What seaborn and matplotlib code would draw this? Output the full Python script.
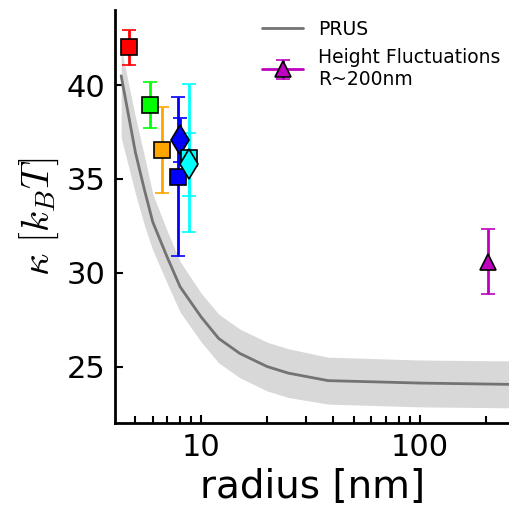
import numpy as np
import matplotlib
matplotlib.use('Agg')
import matplotlib.pyplot as plt
import matplotlib.ticker as mticker
import seaborn as sns

# PRUS model curve with its uncertainty band
prus_radius = [4.3, 5.0, 5.5, 6.0, 7.0, 8.0, 10, 12, 15, 20, 25, 38, 100, 260]
prus_kappa = [40.5, 36.4, 34.4, 32.7, 30.8, 29.25, 27.63, 26.5, 25.7, 25.0, 24.65, 24.25, 24.12, 24.05]
prus_upper = [42.0, 38.3, 36.2, 34.2, 32.2, 30.6, 28.9, 27.8, 27.0, 26.3, 25.95, 25.5, 25.35, 25.3]
prus_lower = [37.2, 34.2, 32.5, 31.2, 29.4, 27.9, 26.3, 25.2, 24.4, 23.7, 23.35, 23.0, 22.85, 22.8]

# simulation points
pt_radius = [4.67, 5.82, 6.63, 7.84, 7.97, 8.79, 8.77]
pt_kappa = [42.03, 38.94, 36.55, 35.13, 37.1, 36.11, 35.78]
pt_err = [0.93, 1.24, 2.28, 4.23, 1.17, 3.96, 1.68]
pt_colors = ['red', 'lime', 'orange', 'blue', 'blue', 'cyan', 'cyan']
pt_markers = ['s', 's', 's', 's', 'd', 's', 'd']

# height fluctuation experiment
hf_radius = [204]
hf_kappa = [30.6]
hf_err = [1.75]

sns.set_style('ticks')
plt.rcParams.update({
    'mathtext.fontset': 'cm',
    'text.color': 'black',
    'axes.labelcolor': 'black',
    'axes.edgecolor': 'black',
    'xtick.color': 'black',
    'ytick.color': 'black',
})

fig = plt.figure(figsize=(5.1, 5.07), dpi=100)
ax = fig.add_axes([0.2255, 0.166, 0.7745, 0.814])

ax.fill_between(prus_radius, prus_lower, prus_upper, color='gray', alpha=0.3, lw=0)
sns.lineplot(x=prus_radius, y=prus_kappa, color='0.45', lw=2, label='PRUS', ax=ax)

for r, k, e, c, m in zip(pt_radius, pt_kappa, pt_err, pt_colors, pt_markers):
    ms = 15 if m == 'd' else 11
    ax.errorbar(r, k, yerr=e, fmt=m, color=c, ms=ms, mec='black', mew=1.2,
                elinewidth=2, capsize=5, capthick=2)

ax.errorbar(hf_radius, hf_kappa, yerr=hf_err, fmt='^-', color='m', ms=11, mec='black',
            mew=1.2, lw=2, elinewidth=2, capsize=5, capthick=2,
            label='Height Fluctuations\nR~200nm')

ax.set_xscale('log')
ax.set_xlim(4.03, 258)
ax.set_ylim(22, 44)
ax.set_yticks([25, 30, 35, 40])
ax.xaxis.set_major_formatter(mticker.FuncFormatter(lambda v, p: '%g' % v))
ax.xaxis.set_minor_formatter(mticker.NullFormatter())
ax.tick_params(direction='in', which='both', labelsize=22, pad=7, width=1.5)
ax.tick_params(which='major', length=6)
ax.tick_params(which='minor', length=5)
for s in ['left', 'bottom']:
    ax.spines[s].set_linewidth(2)
sns.despine(ax=ax)

ax.set_xlabel('radius [nm]', fontsize=28, labelpad=4.5)
ax.set_ylabel(r'$\kappa\ [k_BT]$', fontsize=28, labelpad=4)

ax.legend(loc='upper right', frameon=False, fontsize=13.5, borderaxespad=0.1,
          handlelength=2.2)

fig.savefig('out.png', dpi=100)
